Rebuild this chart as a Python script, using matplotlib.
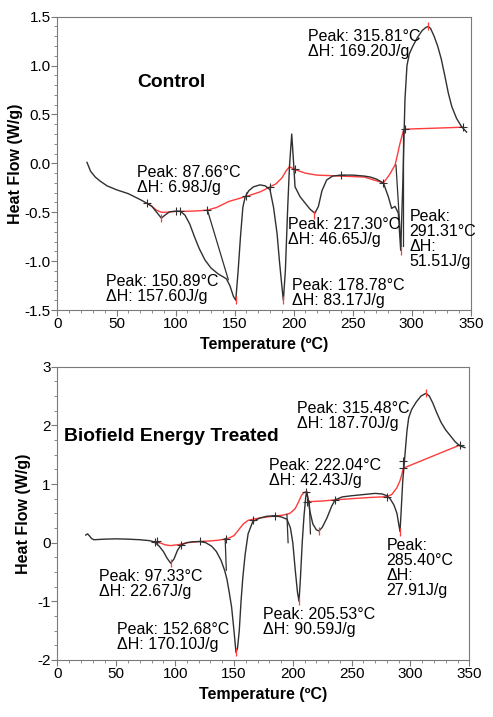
import matplotlib
matplotlib.use('Agg')
import matplotlib.pyplot as plt
from matplotlib.ticker import MultipleLocator, FormatStrFormatter

plt.rcParams['font.family'] = ['Liberation Sans', 'DejaVu Sans']
plt.rcParams['axes.unicode_minus'] = False

# Control sample: DSC curve (temperature in degC, heat flow in W/g)
ctrl_temp = [25, 28, 32, 36, 42, 50, 60, 70, 76, 80, 84, 88, 91, 95, 100, 104,
             108, 112, 116, 120, 125, 130, 136, 143, 146, 149, 151, 153, 155,
             157, 159, 162, 166, 171.5, 176, 180, 183, 186, 188, 190, 191.3, 193,
             195, 196.5, 198.4, 200, 201.2, 205.4, 210, 214, 218, 221, 224,
             228, 233, 240, 250, 260, 265, 270, 276, 280.2, 283, 285.9, 288.7,
             290.7, 292.5, 294.3, 296, 298, 301, 305, 309, 312,
             314.1, 316, 319, 322, 325, 328, 331, 334, 338, 342, 346.5]
ctrl_flow = [0.01, -0.08, -0.14, -0.18, -0.23, -0.27, -0.31, -0.37, -0.41, -0.44,
             -0.50, -0.56, -0.53, -0.495, -0.49, -0.49, -0.53, -0.62, -0.75, -0.87,
             -0.99, -1.07, -1.13, -1.18, -1.25, -1.36, -1.40, -1.10, -0.75, -0.45,
             -0.34, -0.28, -0.24, -0.22, -0.23, -0.27, -0.45, -0.72, -1.0, -1.25,
             -1.40, -1.1, -0.45, -0.03, 0.30, 0.0, -0.24, -0.34, -0.41, -0.47,
             -0.51, -0.44, -0.28, -0.17, -0.13, -0.12, -0.12, -0.13, -0.14, -0.16,
             -0.20, -0.34, -0.46, -0.44, -0.51, -0.89, -0.2, 0.65, 1.0, 1.12,
             1.20, 1.29, 1.36, 1.39, 1.40, 1.38, 1.30, 1.20,
             1.07, 0.90, 0.72, 0.58, 0.46, 0.38, 0.32]
ctrl_base_temp = [76, 80, 84, 88, 92, 100, 110, 120, 127, 135, 145, 155, 162, 172,
                  180, 185, 190, 194, 196.5, 202.6, 210, 219.5, 230, 240, 260, 276,
                  281, 285.9, 288, 290, 292.9, 294.5, 320, 343.5]
ctrl_base_flow = [-0.41, -0.44, -0.48, -0.50, -0.50, -0.49, -0.49, -0.485, -0.478,
                  -0.45, -0.39, -0.355, -0.33, -0.29, -0.24, -0.21, -0.15, -0.07,
                  -0.035, -0.07, -0.10, -0.12, -0.125, -0.13, -0.14, -0.20, -0.12,
                  -0.017, 0.09, 0.20, 0.33, 0.35, 0.36, 0.37]
ctrl_lim_temp = [76, 100, 104, 127, 160, 180, 201, 240, 276, 294.5, 343.5]
ctrl_lim_flow = [-0.41, -0.49, -0.49, -0.48, -0.33, -0.24, -0.06, -0.12, -0.2, 0.35, 0.37]
ctrl_peak_temp = [88, 151, 191.3, 217.3, 291, 314.1]
ctrl_peak_flow = [-0.56, -1.40, -1.40, -0.53, -0.90, 1.40]
ctrl_cut_temp = [[127, 144.7], [286.7, 291], [292.9, 292.9]]
ctrl_cut_flow = [[-0.478, -1.19], [-0.017, -0.85], [0.33, -0.85]]
ctrl_labels = ['Peak: 87.66°C\nΔH: 6.98J/g', 'Peak: 150.89°C\nΔH: 157.60J/g',
               'Peak: 178.78°C\nΔH: 83.17J/g', 'Peak: 217.30°C\nΔH: 46.65J/g',
               'Peak:\n291.31°C\nΔH:\n51.51J/g', 'Peak: 315.81°C\nΔH: 169.20J/g']
ctrl_label_x = [67.6, 41.1, 198.4, 195.5, 298, 212.5]
ctrl_label_y = [-0.174, -1.285, -1.329, -0.70, -0.771, 1.218]

# Biofield Energy Treated sample
trt_temp = [24, 25.5, 27, 29, 31, 40, 50, 60, 70, 78, 82, 86, 90, 93, 96.2, 99,
            102, 105, 110, 115, 121, 126, 131, 135, 139, 142, 144, 146, 148, 150,
            151.7, 153, 154.5, 156, 157.5, 159.5, 162, 166, 172, 178, 185, 190,
            195, 198, 200, 202, 204, 205.3, 206.5, 208, 209.5, 211, 211.8, 213,
            214.6, 217, 220, 222.2, 225, 229, 233, 236, 242, 250, 260, 270, 276,
            280, 283, 286, 288.5, 290, 291.1, 292, 293.4, 295.3, 297, 298.5, 301,
            305, 309, 313.2, 316, 319, 322, 326, 330, 334, 338, 342, 346.3]
trt_flow = [0.13, 0.15, 0.12, 0.07, 0.05, 0.06, 0.065, 0.06, 0.05, 0.035, 0.015,
            -0.05, -0.15, -0.26, -0.35, -0.28, -0.13, -0.04, 0.0, 0.015, 0.02, 0.0,
            -0.06, -0.15, -0.30, -0.47, -0.62, -0.85, -1.1, -1.5, -1.87, -1.8, -1.5,
            -1.0, -0.6, -0.2, 0.15, 0.36, 0.42, 0.45, 0.46, 0.44, 0.40, 0.25, 0.0,
            -0.45, -0.85, -1.0, -0.6, 0.0, 0.45, 0.78, 0.87, 0.75, 0.53, 0.32, 0.22,
            0.20, 0.26, 0.42, 0.62, 0.73, 0.78, 0.80, 0.82, 0.84, 0.83, 0.80, 0.74,
            0.64, 0.50, 0.32, 0.19, 0.5, 1.04, 1.49, 1.9, 2.13, 2.27, 2.40, 2.50,
            2.545, 2.50, 2.38, 2.23, 2.05, 1.92, 1.82, 1.72, 1.65, 1.62]
trt_base_temp = [83, 88, 92, 96.2, 100, 104, 110, 121, 130, 136, 142, 146, 150,
                 154, 158, 162, 166, 175, 185, 192, 197.6, 202, 205, 207.5, 210,
                 211.8, 213, 215, 225, 236, 250, 265, 279.8, 284, 288.3, 291,
                 292.5, 293.9, 342.1]
trt_base_flow = [0.017, -0.01, -0.04, -0.05, -0.04, -0.03, 0.0, 0.02, 0.03, 0.04,
                 0.06, 0.08, 0.12, 0.22, 0.32, 0.38, 0.40, 0.43, 0.455, 0.47, 0.50,
                 0.58, 0.70, 0.81, 0.86, 0.87, 0.72, 0.70, 0.71, 0.73, 0.75, 0.77,
                 0.784, 0.82, 0.93, 1.05, 1.15, 1.27, 1.665]
trt_lim_temp = [83, 84.5, 105, 121, 143, 166, 185, 211, 212, 236, 280, 294, 294, 342]
trt_lim_flow = [0.017, 0.02, -0.04, 0.02, 0.07, 0.38, 0.455, 0.87, 0.70, 0.73,
                0.78, 1.27, 1.40, 1.665]
trt_peak_temp = [96.2, 151.7, 205.3, 222.2, 291.1, 313.2]
trt_peak_flow = [-0.35, -1.87, -1.0, 0.20, 0.19, 2.545]
trt_cut_temp = [[142.5, 143.5], [195, 196], [214, 215]]
trt_cut_flow = [[0.07, -0.47], [0.48, 0.0], [0.70, 0.15]]
trt_labels = ['Peak: 97.33°C\nΔH: 22.67J/g', 'Peak: 152.68°C\nΔH: 170.10J/g',
              'Peak: 205.53°C\nΔH: 90.59J/g', 'Peak: 222.04°C\nΔH: 42.43J/g',
              'Peak:\n285.40°C\nΔH:\n27.91J/g', 'Peak: 315.48°C\nΔH: 187.70J/g']
trt_label_x = [35.5, 50.3, 174.4, 180, 279.8, 203.3]
trt_label_y = [-0.708, -1.616, -1.355, 1.196, -0.432, 2.156]

spine_col = '#7a7a7a'
curve_col = '#303030'
base_col = '#ff3b3b'

fig = plt.figure(figsize=(4.93, 7.17), dpi=100)
ax1 = fig.add_axes([0.1166, 0.5676, 0.8382, 0.4091])
ax2 = fig.add_axes([0.1166, 0.0795, 0.8353, 0.4091])

panels = [
    (ax1, 'Control', (67.3, 0.824), 1, ctrl_temp, ctrl_flow, ctrl_base_temp,
     ctrl_base_flow, ctrl_lim_temp, ctrl_lim_flow, ctrl_peak_temp, ctrl_peak_flow,
     ctrl_cut_temp, ctrl_cut_flow, ctrl_labels, ctrl_label_x, ctrl_label_y),
    (ax2, 'Biofield Energy Treated', (5.5, 1.807), 4, trt_temp, trt_flow,
     trt_base_temp, trt_base_flow, trt_lim_temp, trt_lim_flow, trt_peak_temp,
     trt_peak_flow, trt_cut_temp, trt_cut_flow, trt_labels, trt_label_x, trt_label_y),
]

for (ax, title, tpos, ypad, t, f, bt, bf, lt, lf, pt, pf, ct, cf, labels, lx, ly) in panels:
    ax.plot(bt, bf, color=base_col, lw=1.0, zorder=2)
    ax.plot(t, f, color=curve_col, lw=1.0, zorder=3)
    for xs, ys in zip(ct, cf):
        ax.plot(xs, ys, color=curve_col, lw=0.9, zorder=3)
    ax.plot(lt, lf, ls='none', marker='+', ms=6, mew=0.8, color=curve_col, zorder=4)
    ax.plot(pt, pf, ls='none', marker='|', ms=6, mew=0.9, color=base_col, zorder=4)
    ax.text(tpos[0], tpos[1], title, fontsize=13.9, fontweight='bold',
            ha='left', va='center')
    for s, x, y in zip(labels, lx, ly):
        ax.text(x, y, s, fontsize=11.5, ha='left', va='center', linespacing=1.0)

    ax.set_xlim(0, 350)
    ax.xaxis.set_major_locator(MultipleLocator(50))
    ax.xaxis.set_minor_locator(MultipleLocator(10))
    ax.set_xlabel('Temperature (ºC)', fontsize=11.5, fontweight='bold', labelpad=4.5)
    ax.set_ylabel('Heat Flow (W/g)', fontsize=11.5, fontweight='bold', labelpad=ypad)
    for side in ['top', 'right', 'left', 'bottom']:
        ax.spines[side].set_color(spine_col)
    ax.tick_params(which='major', length=4, color=spine_col, labelsize=11, pad=1)
    ax.tick_params(which='minor', length=2.5, color=spine_col)

ax1.set_ylim(-1.5, 1.5)
ax1.yaxis.set_major_locator(MultipleLocator(0.5))
ax1.yaxis.set_minor_locator(MultipleLocator(0.1))
ax1.yaxis.set_major_formatter(FormatStrFormatter('%.1f'))

ax2.set_ylim(-2, 3)
ax2.yaxis.set_major_locator(MultipleLocator(1))
ax2.yaxis.set_minor_locator(MultipleLocator(0.25))

fig.savefig('out.png', dpi=100)
